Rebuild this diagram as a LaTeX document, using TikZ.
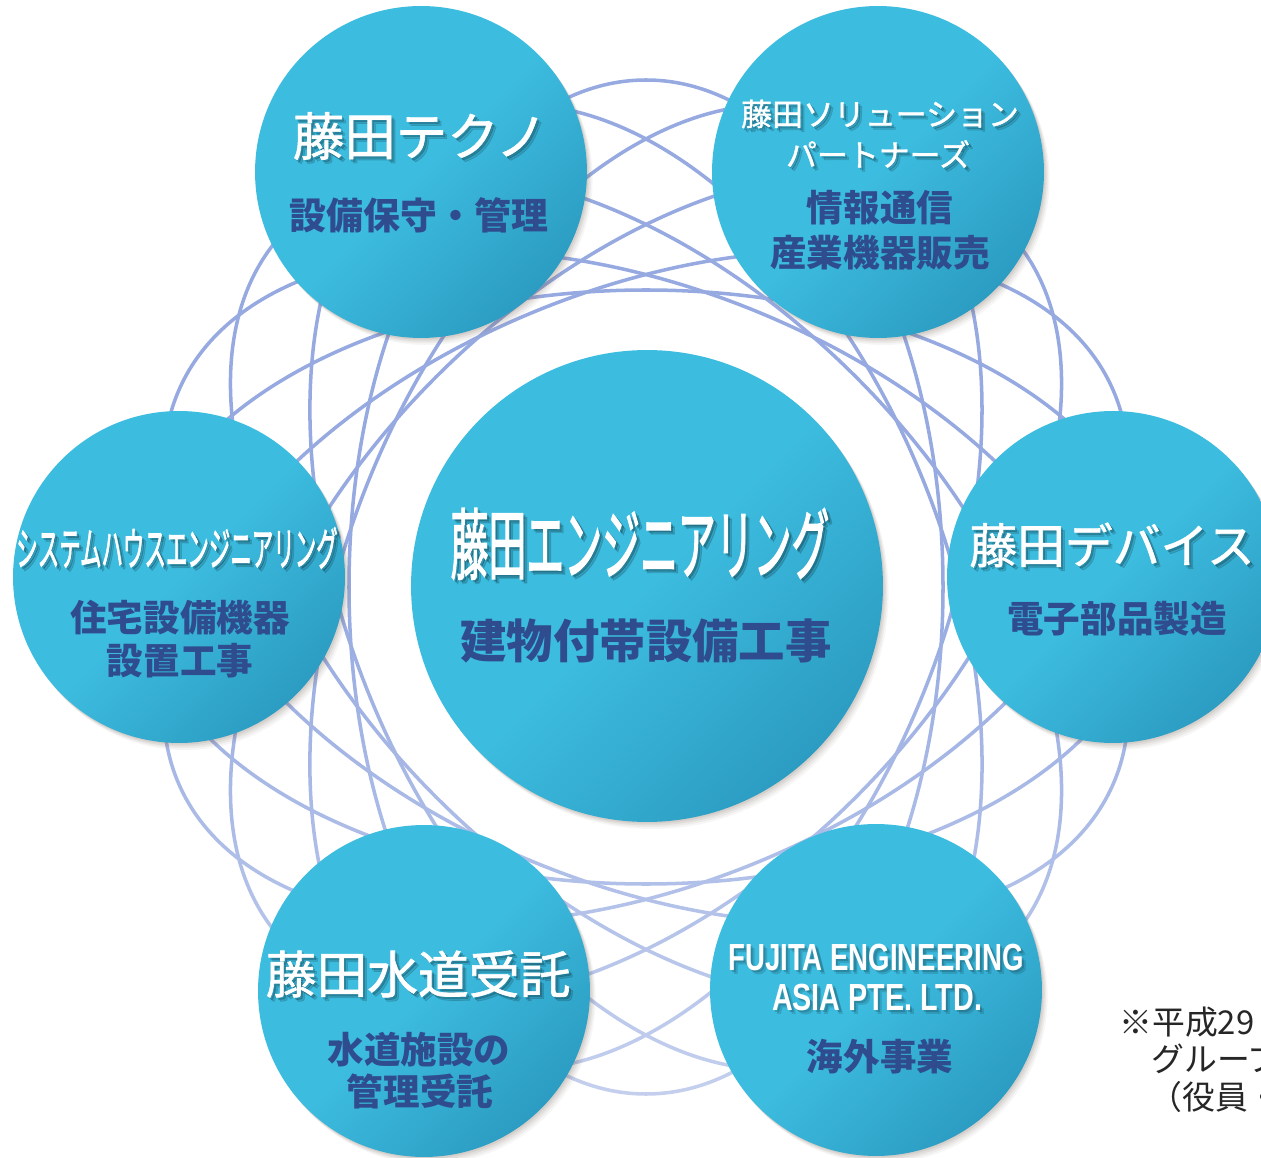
\documentclass[tikz,border=0pt]{standalone}
\usepackage{fontspec}
\usepackage{graphicx}
\usetikzlibrary{shadows,fadings}
\setmainfont{Liberation Sans}
\newfontfamily\jp{Noto Sans CJK JP}
\newfontfamily\jpt[FakeBold=1.2]{Noto Sans CJK JP}
\newfontfamily\jph[FakeBold=2.2]{Noto Sans CJK JP}
\definecolor{cL}{RGB}{60,188,223}
\definecolor{cD}{RGB}{44,156,194}
\definecolor{navy}{RGB}{46,76,142}
\definecolor{ringc}{RGB}{150,170,225}
\definecolor{shc}{RGB}{110,92,80}
\tikzfading[name=fadeS, top color=transparent!100, bottom color=transparent!50, middle color=transparent!100]
\tikzset{
  bubble/.style={circle, inner sep=0pt, minimum size=#1,
    top color=cL, bottom color=cD, middle color=cL, shading angle=45,
    general shadow={fill=shc, opacity=0.10, shadow xshift=0.8pt, shadow yshift=-1.0pt},
    general shadow={fill=shc, opacity=0.09, shadow xshift=1.6pt, shadow yshift=-2.0pt},
    general shadow={fill=shc, opacity=0.07, shadow xshift=2.4pt, shadow yshift=-3.0pt},
    general shadow={fill=shc, opacity=0.05, shadow xshift=3.2pt, shadow yshift=-4.0pt}},
  ringline/.style={draw=ringc, line width=2pt},
  subtxt/.style={text=navy, inner sep=0pt},
  fnote/.style={anchor=west, inner sep=0pt, text=black!85}
}
% title with soft shadow: name, x, y, font, text
\newcommand\ttlnode[5]{%
  \node[text=black, text opacity=0.13, inner sep=0pt] (#1s) at (#2+4,#3+4) {#4#5};
  \node[text=black, text opacity=0.16, inner sep=0pt] (#1t) at (#2+2.2,#3+2.2) {#4#5};
  \node[text=white, inner sep=0pt] (#1) at (#2,#3) {#4#5};
}
\newcommand\subnode[5]{%
  \node[subtxt] (#1) at (#2,#3) {#4#5};
}
\begin{document}
\begin{tikzpicture}[x=0.02cm, y=-0.02cm]
\useasboundingbox (0,0) rectangle (1261,1158);
\clip (0,0) rectangle (1261,1158);
\fill[white] (0,0) rectangle (1261,1158);

% background rosette of ellipses
\coordinate (ctr) at (646,587);
\foreach \k in {0,...,7}{
  \draw[ringline, rotate around={22.5*\k:(ctr)}] (ctr) ellipse [x radius=507, y radius=297];
}
\fill[white, path fading=fadeS] (0,0) rectangle (1261,1158);

% circles
\node[bubble=9.44cm] (C) at (647,586) {};
\node[bubble=6.64cm] (TL) at (421,172) {};
\node[bubble=6.64cm] (TR) at (878,172) {};
\node[bubble=6.64cm] (L) at (179,577) {};
\node[bubble=6.64cm] (R) at (1113,577) {};
\node[bubble=6.64cm] (BL) at (424,991) {};
\node[bubble=6.64cm] (BR) at (876,990) {};

% center
\ttlnode{ct}{640}{544}{\fontsize{44pt}{48pt}\jph}{\scalebox{0.49}[1]{藤田エンジニアリング}}
\subnode{cs}{646}{641}{\fontsize{26.4pt}{30pt}\jp\bfseries}{建物付帯設備工事}

% top left
\ttlnode{tlt}{420}{136}{\fontsize{29.3pt}{32pt}\jpt}{藤田テクノ}
\subnode{tls}{419}{215}{\fontsize{21pt}{24pt}\jp\bfseries}{設備保守・管理}

% top right
\ttlnode{trt1}{880}{114}{\fontsize{17.6pt}{20pt}\jpt}{藤田ソリューション}
\ttlnode{trt2}{878}{154}{\fontsize{17.6pt}{20pt}\jpt}{パートナーズ}
\subnode{trs1}{880}{208}{\fontsize{20.8pt}{24pt}\jp\bfseries}{情報通信}
\subnode{trs2}{880}{253}{\fontsize{20.8pt}{24pt}\jp\bfseries}{産業機器販売}

% left
\ttlnode{lt}{177}{548}{\fontsize{26pt}{30pt}\jph}{\scalebox{0.47}[1]{システムハウスエンジニアリング}}
\subnode{ls1}{180}{618}{\fontsize{20.8pt}{24pt}\jp\bfseries}{住宅設備機器}
\subnode{ls2}{180}{661}{\fontsize{20.8pt}{24pt}\jp\bfseries}{設置工事}

% right
\ttlnode{rt}{1112}{545}{\fontsize{27.2pt}{30pt}\jpt}{藤田デバイス}
\subnode{rs}{1117}{619}{\fontsize{20.8pt}{24pt}\jp\bfseries}{電子部品製造}

% bottom left
\ttlnode{blt}{418}{974}{\fontsize{28.9pt}{32pt}\jpt}{藤田水道受託}
\subnode{bls1}{419}{1050}{\fontsize{20.8pt}{24pt}\jp\bfseries}{水道施設の}
\subnode{bls2}{420}{1091}{\fontsize{20.8pt}{24pt}\jp\bfseries}{管理受託}

% bottom right
\ttlnode{brt1}{876}{957}{\fontsize{21.5pt}{24pt}\bfseries}{\scalebox{0.73}[1]{FUJITA ENGINEERING}}
\ttlnode{brt2}{877}{997}{\fontsize{21.5pt}{24pt}\bfseries}{\scalebox{0.76}[1]{ASIA PTE. LTD.}}
\subnode{brs}{880}{1057}{\fontsize{20.8pt}{24pt}\jp\bfseries}{海外事業}

% footnote (cut by the picture edge)
\node[fnote] (fn1) at (1119,1022) {\fontsize{18.7pt}{22pt}\jp ※平成29};
\node[fnote] (fn2) at (1151,1059) {\fontsize{18.7pt}{22pt}\jp グループ};
\node[fnote] (fn3) at (1149,1097) {\fontsize{18.7pt}{22pt}\jp （役員・};
\end{tikzpicture}
\end{document}
